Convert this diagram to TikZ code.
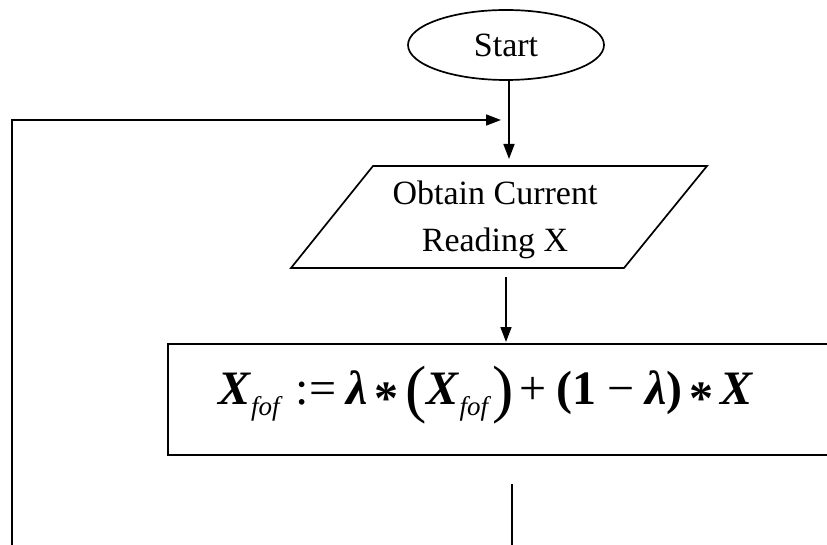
\documentclass[tikz,border=0pt]{standalone}
\usepackage{fontspec}
\setmainfont{Liberation Serif}
\usetikzlibrary{shapes.geometric,arrows.meta}
\newcommand{\BX}{\textbf{\textit{X}}}
\newcommand{\BL}{\textbf{\textit{λ}}}
\newcommand{\SUB}{\raisebox{-11pt}{\fontsize{27}{27}\selectfont\itshape fof}}
\newcommand{\ST}{\hspace{7pt}\raisebox{-10pt}{\bfseries *}\hspace{7pt}}
\newcommand{\BP}[1]{\raisebox{-6pt}{\fontsize{64}{64}\selectfont #1}}
\tikzset{
  ln/.style={line width=1.7pt},
  arr/.style={ln,-{Triangle[length=15pt,width=11pt]}},
  lbl/.style={font=\fontsize{34}{47}\selectfont, align=center}
}
\begin{document}
\begin{tikzpicture}[x=1pt,y=-1pt]
\useasboundingbox (0,0) rectangle (827,545);
\clip (0,0) rectangle (827,545);
% start
\node[ellipse, draw, ln, minimum width=196pt, minimum height=70pt, lbl] (start) at (506,45) {Start};
% input parallelogram
\coordinate (p1) at (373,166);
\coordinate (p2) at (707,166);
\coordinate (p3) at (624,268);
\coordinate (p4) at (291,268);
\draw[ln] (p1) -- (p2) -- (p3) -- (p4) -- cycle;
\node[lbl] (inp) at (495,220) {Obtain Current\\Reading X};
% process box
\node[draw, ln, minimum width=680pt, minimum height=111pt, anchor=north west, inner sep=0pt] (box) at (167,343) {};
\node[anchor=base west, inner sep=0pt, font=\fontsize{48}{54}\selectfont] (eq) at (218,404)
 {\BX\SUB\hspace{16pt}:=\hspace{10pt}\BL\ST\BP{(}\BX\SUB\hspace{4pt}\BP{)}\hspace{6pt}+\hspace{10pt}\textbf{(1}\hspace{11pt}−\hspace{11pt}\BL\textbf{)}\ST\BX};
% connectors
\coordinate (s1) at (509,80);
\coordinate (s2) at (509,159);
\draw[arr] (s1) -- (s2);
\coordinate (l0) at (12,545);
\coordinate (l1) at (12,120);
\coordinate (l2) at (501,120);
\draw[arr] (l0) -- (l1) -- (l2);
\coordinate (a1) at (506,277);
\coordinate (a2) at (506,342);
\draw[arr] (a1) -- (a2);
\coordinate (b1) at (512,484);
\coordinate (b2) at (512,545);
\draw[ln] (b1) -- (b2);
\end{tikzpicture}
\end{document}
